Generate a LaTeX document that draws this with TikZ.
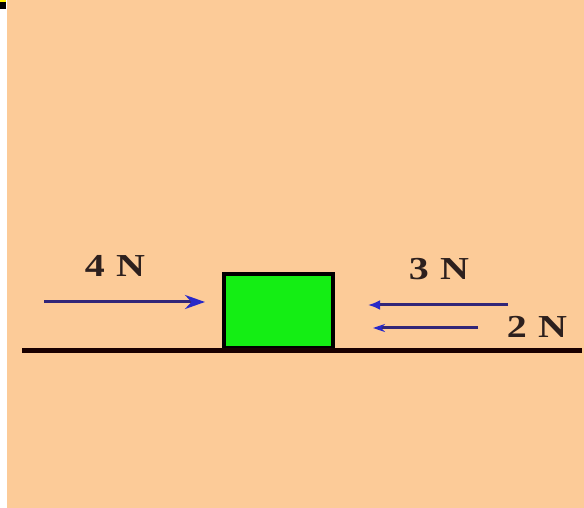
\documentclass[tikz,border=0pt]{standalone}
\usepackage{fontspec}
\setmainfont{Liberation Serif}
\usetikzlibrary{arrows.meta}
\definecolor{peach}{RGB}{252,203,152}
\definecolor{blockgreen}{RGB}{20,238,20}
\definecolor{forceline}{RGB}{50,38,120}
\definecolor{forcehead}{RGB}{40,40,200}
\definecolor{labelink}{RGB}{45,32,30}
\begin{document}
\begin{tikzpicture}[x=1pt, y=1pt, >=Stealth,
  force/.style={line width=3pt, draw=forceline},
  flabel/.style={text=labelink, font=\bfseries\fontsize{32}{32}\selectfont\addfontfeature{FakeStretch=1.25}, inner sep=0pt}]
  % background and the strips at the edge
  \useasboundingbox (0,0) rectangle (584,508);
  \fill[white] (0,0) rectangle (7,499);
  \fill[peach] (7,0) rectangle (584,508);
  \fill[black] (0,499) rectangle (6,506);
  \fill[yellow] (0,506) rectangle (6,508);

  % block on the floor
  \node[draw=black, fill=blockgreen, line width=4pt, minimum width=109pt, minimum height=74pt, inner sep=0pt] (block) at (278.5,197) {};
  \draw[line width=5pt, black!90!red] (22,157) -- (582,157);

  % forces
  \coordinate (f4tail) at (44,206);
  \coordinate (f4tip) at (205,206);
  \coordinate (f3tail) at (508,203);
  \coordinate (f3tip) at (368,203);
  \coordinate (f2tail) at (478,180);
  \coordinate (f2tip) at (373,180);
  \draw[force, -{Stealth[length=20pt, width=14pt, color=forcehead]}] (f4tail) -- (f4tip);
  \draw[force, -{Latex[length=12pt, width=10pt, color=forcehead]}] (f3tail) -- (f3tip);
  \draw[force, -{Stealth[length=12pt, width=8pt, color=forcehead]}] (f2tail) -- (f2tip);

  % labels
  \node[flabel] (l4) at (115,242) {4\hspace{0.35em}N};
  \node[flabel] (l3) at (439,239) {3\hspace{0.35em}N};
  \node[flabel] (l2) at (537,181) {2\hspace{0.35em}N};
\end{tikzpicture}
\end{document}
